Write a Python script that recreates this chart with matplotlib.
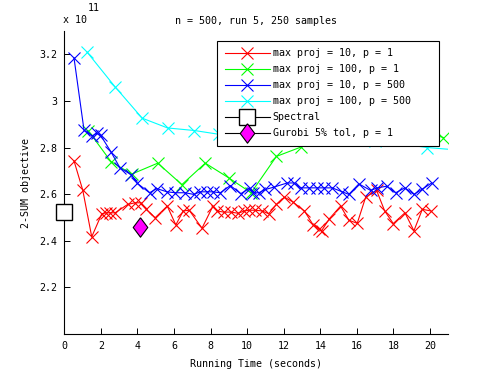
import numpy as np
import matplotlib
matplotlib.use("Agg")
import matplotlib.pyplot as plt

plt.rcParams['font.family'] = ['DejaVu Sans Mono']
plt.rcParams['font.size'] = 7.2

# values in units of 1e11
t_red = [0.53, 1.01, 1.50, 2.05, 2.27, 2.50, 2.78, 3.47, 3.87, 4.19, 4.48, 4.97,
         5.63, 6.10, 6.50, 6.83, 7.53, 8.13, 8.35, 8.71, 9.12, 9.50, 9.85, 10.12,
         10.45, 10.82, 11.18, 11.60, 12.04, 12.49, 13.13, 13.61, 13.92, 14.07,
         14.50, 15.11, 15.56, 16.02, 16.48, 17.08, 17.52, 17.99, 18.63, 19.12,
         19.58, 20.04]
v_red = [2.743, 2.617, 2.417, 2.516, 2.520, 2.520, 2.520, 2.556, 2.563, 2.563,
         2.535, 2.499, 2.549, 2.468, 2.528, 2.531, 2.454, 2.549, 2.528, 2.523,
         2.523, 2.518, 2.528, 2.531, 2.531, 2.528, 2.516, 2.556, 2.587, 2.567,
         2.528, 2.468, 2.450, 2.443, 2.495, 2.549, 2.488, 2.475, 2.587, 2.616,
         2.528, 2.474, 2.520, 2.443, 2.535, 2.528]

t_green = [1.32, 2.55, 3.69, 5.11, 6.43, 7.71, 9.01, 10.22, 11.60, 12.94, 15.5,
           18.2, 20.73]
v_green = [2.871, 2.740, 2.686, 2.733, 2.641, 2.733, 2.669, 2.606, 2.762, 2.802,
           2.88, 2.90, 2.843]

t_blue = [0.53, 1.08, 1.53, 1.78, 1.98, 2.54, 3.05, 3.65, 4.00, 4.66, 5.06, 5.61,
          6.07, 6.61, 7.07, 7.44, 7.80, 8.13, 8.53, 9.08, 9.65, 10.14, 10.32,
          10.63, 11.00, 11.45, 12.19, 12.55, 12.92, 13.37, 13.82, 14.19, 14.65,
          15.20, 15.56, 16.11, 16.75, 17.12, 17.63, 18.12, 18.63, 19.12, 19.55,
          20.09]
v_blue = [3.185, 2.874, 2.850, 2.861, 2.853, 2.783, 2.712, 2.684, 2.646, 2.606,
          2.624, 2.610, 2.606, 2.606, 2.599, 2.610, 2.610, 2.610, 2.606, 2.637,
          2.602, 2.626, 2.606, 2.606, 2.620, 2.630, 2.648, 2.648, 2.627, 2.627,
          2.627, 2.627, 2.627, 2.610, 2.599, 2.644, 2.616, 2.627, 2.634, 2.606,
          2.627, 2.599, 2.620, 2.648]

t_cyan = [1.23, 2.78, 4.26, 5.65, 7.12, 8.44, 11.0, 14.0, 17.0, 19.86, 21.4]
v_cyan = [3.211, 3.060, 2.926, 2.884, 2.873, 2.857, 2.85, 2.84, 2.83, 2.80, 2.79]

t_spectral = [0.0]
v_spectral = [2.524]
t_gurobi = [4.15]
v_gurobi = [2.457]

labels = ['max proj = 10, p = 1', 'max proj = 100, p = 1',
          'max proj = 10, p = 500', 'max proj = 100, p = 500',
          'Spectral', 'Gurobi 5% tol, p = 1']

fig = plt.figure(figsize=(4.95, 3.75), dpi=100)
ax = fig.add_axes([64.3 / 495, 41 / 375, 384 / 495, 303 / 375])

lw = 0.8
ms = 9
ax.plot(t_red, v_red, '-x', color=(1, 0, 0), lw=lw, ms=ms, mew=lw, label=labels[0])
ax.plot(t_green, v_green, '-x', color=(0, 1, 0), lw=lw, ms=ms, mew=lw, label=labels[1])
ax.plot(t_blue, v_blue, '-x', color=(0, 0, 1), lw=lw, ms=ms, mew=lw, label=labels[2])
ax.plot(t_cyan, v_cyan, '-x', color=(0, 1, 1), lw=lw, ms=ms, mew=lw, label=labels[3])
ax.plot(t_spectral, v_spectral, '-s', color='black', mfc='white', mec='black',
        lw=lw, ms=11, mew=1.0, clip_on=False, label=labels[4], zorder=5)
diamond = [(0, 1), (0.75, 0), (0, -1), (-0.75, 0), (0, 1)]
ax.plot(t_gurobi, v_gurobi, '-', marker=diamond, color='black', mfc=(1, 0, 1),
        mec='black', lw=lw, ms=14, mew=0.8, label=labels[5], zorder=5)

ax.set_xlim(0, 21)
ax.set_ylim(2.0, 3.3)
ax.set_xticks(range(0, 21, 2))
ax.set_yticks([2.2, 2.4, 2.6, 2.8, 3.0, 3.2])
ax.set_yticklabels(['2.2', '2.4', '2.6', '2.8', '3', '3.2'])
ax.tick_params(direction='in', length=4, width=0.7, pad=5)
ax.spines['top'].set_visible(False)
ax.spines['right'].set_visible(False)
ax.spines['left'].set_linewidth(0.8)
ax.spines['bottom'].set_linewidth(0.8)

ax.set_title('n = 500, run 5, 250 samples', pad=5, fontsize=7.2)
ax.set_xlabel('Running Time (seconds)', labelpad=6)
ax.set_ylabel('2-SUM objective', labelpad=6)

fig.text(63 / 495, 1 - 20 / 375, 'x 10', ha='left', va='center')
fig.text(88 / 495, 1 - 8 / 375, '11', ha='left', va='center')

# legend box stretched to the MATLAB-like width (extra space on the right)
leg = ax.legend(loc='upper left', bbox_to_anchor=(0.3977, 0.0, 0.578, 0.967),
                mode='expand', borderaxespad=0,
                numpoints=1, handlelength=4.5, handletextpad=0.3, labelspacing=0.6,
                fancybox=False, framealpha=1, edgecolor='black', borderpad=0.75)
leg.get_frame().set_linewidth(0.8)
leg.set_zorder(10)

fig.savefig('out.png', dpi=100)
